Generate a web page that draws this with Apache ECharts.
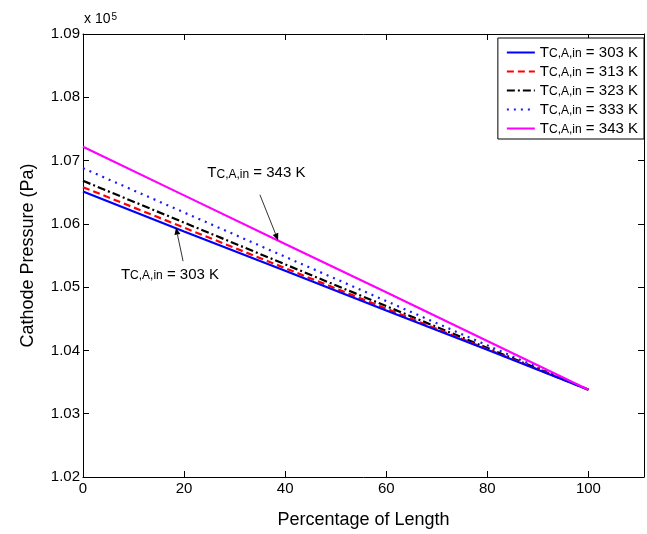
<!DOCTYPE html>
<html><head><meta charset="utf-8">
<script src="https://cdn.jsdelivr.net/npm/echarts@6/dist/echarts.min.js"></script>
<style>html,body{margin:0;padding:0;background:#fff}#c{width:647px;height:534px}</style>
</head><body><div id="c"></div>
<script>
// Data (cathode pressure in units of 10^5 Pa)
const xValues = [0, 20, 40, 60, 80, 100];
const p303 = [1.0651, 1.0588, 1.0526, 1.0463, 1.0401, 1.0338];
const p313 = [1.0658, 1.0594, 1.0530, 1.0466, 1.0402, 1.0338];
const p323 = [1.0668, 1.0602, 1.0536, 1.0470, 1.0404, 1.0338];
const p333 = [1.0688, 1.0618, 1.0548, 1.0478, 1.0408, 1.0338];
const p343 = [1.0722, 1.0645, 1.0568, 1.0492, 1.0415, 1.0338];
const seriesLabels = ['303 K', '313 K', '323 K', '333 K', '343 K'];
const xTickValues = [0, 20, 40, 60, 80, 100];
const yTickValues = [1.02, 1.03, 1.04, 1.05, 1.06, 1.07, 1.08, 1.09];
const xAxisTitle = 'Percentage of Length';
const yAxisTitle = 'Cathode Pressure (Pa)';

const FONT = 'Liberation Sans, Arial, sans-serif';
const chart = echarts.init(document.getElementById('c'), null, {renderer: 'canvas'});

const seriesData = [p303, p313, p323, p333, p343];
const styles = [
  {color: '#0000ff', type: 'solid', width: 2.2},
  {color: '#ff0000', type: [7, 4], width: 2.2},
  {color: '#000000', type: [8, 3, 2, 3], width: 2.2},
  {color: '#1a1aff', type: [2, 5], width: 2.2},
  {color: '#ff00ff', type: 'solid', width: 2.2}
];

const series = seriesData.map((d, i) => ({
  name: seriesLabels[i],
  type: 'line',
  xAxisIndex: 0, yAxisIndex: 0,
  data: xValues.map((x, j) => [x, d[j]]),
  symbol: 'none',
  z: 10 - i,
  lineStyle: {color: styles[i].color, type: styles[i].type, width: styles[i].width},
  itemStyle: {color: styles[i].color}
}));
series[4].z = 12;

const legendRich = {
  t: {fontSize: 15, fontFamily: FONT, color: '#000', verticalAlign: 'top', lineHeight: 15},
  s: {fontSize: 12, fontFamily: FONT, color: '#000', verticalAlign: 'bottom', lineHeight: 12, padding: [8, 0, 0, 0]}
};

chart.setOption({
  animation: false,
  backgroundColor: '#fff',
  grid: {left: 83, right: 3, top: 34, bottom: 53},
  legend: {
    orient: 'vertical', right: 3, top: 38,
    data: seriesLabels,
    itemWidth: 28, itemHeight: 10, itemGap: -1,
    padding: [2, 6, 3, 8],
    backgroundColor: '#fff', borderColor: '#000', borderWidth: 1,
    itemStyle: {color: 'rgba(0,0,0,0)', borderWidth: 0, opacity: 0},
    formatter: n => '{t|T}{s|C,A,in}{t| = ' + n + '}',
    textStyle: {rich: legendRich}
  },
  xAxis: [{
    type: 'value', min: 0, max: 111, position: 'bottom',
    name: xAxisTitle, nameLocation: 'middle', nameGap: 34,
    nameTextStyle: {fontSize: 18, fontFamily: FONT, color: '#000'},
    axisLine: {show: true, onZero: false, lineStyle: {color: '#000', width: 1}},
    axisTick: {show: true, inside: true, length: 6, customValues: xTickValues, lineStyle: {color: '#000'}},
    axisLabel: {show: true, customValues: xTickValues, fontSize: 15, fontFamily: FONT, color: '#000', margin: 4},
    splitLine: {show: false}
  }, {
    type: 'value', min: 0, max: 111, position: 'top',
    axisLine: {show: true, onZero: false, lineStyle: {color: '#000', width: 1}},
    axisTick: {show: true, inside: true, length: 6, customValues: xTickValues, lineStyle: {color: '#000'}},
    axisLabel: {show: false},
    splitLine: {show: false}
  }],
  yAxis: [{
    type: 'value', min: 1.02, max: 1.09, interval: 0.01, position: 'left',
    name: yAxisTitle, nameLocation: 'middle', nameGap: 46, nameRotate: 90,
    nameTextStyle: {fontSize: 18, fontFamily: FONT, color: '#000'},
    axisLine: {show: true, onZero: false, lineStyle: {color: '#000', width: 1}},
    axisTick: {show: true, inside: true, length: 6, lineStyle: {color: '#000'}},
    axisLabel: {fontSize: 15, fontFamily: FONT, color: '#000', margin: 3, formatter: v => v.toFixed(2)},
    splitLine: {show: false}
  }, {
    type: 'value', min: 1.02, max: 1.09, interval: 0.01, position: 'right',
    axisLine: {show: true, onZero: false, lineStyle: {color: '#000', width: 1}},
    axisTick: {show: true, inside: true, length: 6, lineStyle: {color: '#000'}},
    axisLabel: {show: false},
    splitLine: {show: false}
  }],
  series: series
});

// Annotations in data coordinates
const annotations = [
  {text: '343 K', textAt: [24.6, 1.0680], tail: [35.0, 1.0646], tip: [38.6, 1.0574]},
  {text: '303 K', textAt: [7.5, 1.0519], tail: [19.8, 1.0541], tip: [18.4, 1.0594]}
];

function px(p) { return chart.convertToPixel({xAxisIndex: 0, yAxisIndex: 0}, p); }

const g = [];
const topLeft = px([0, 1.09]);
g.push({type: 'text', x: topLeft[0] + 1, y: topLeft[1] - 22,
  style: {text: '{a|x 10}{b|5}', rich: {
    a: {fontSize: 14, fontFamily: FONT, fill: '#000', verticalAlign: 'bottom', lineHeight: 14, padding: [6, 0, 0, 0]},
    b: {fontSize: 10, fontFamily: FONT, fill: '#000', verticalAlign: 'top', lineHeight: 10, padding: [0, 0, 0, 1]}
  }}});

annotations.forEach(a => {
  const tp = px(a.textAt);
  g.push({type: 'text', x: tp[0], y: tp[1] - 8, z: 50,
    style: {text: '{t|T}{s|C,A,in}{t| = ' + a.text + '}', rich: {
      t: {fontSize: 15, fontFamily: FONT, fill: '#000', verticalAlign: 'top', lineHeight: 15},
      s: {fontSize: 12, fontFamily: FONT, fill: '#000', verticalAlign: 'bottom', lineHeight: 12, padding: [8, 0, 0, 0]}
    }}});
  const t0 = px(a.tail), t1 = px(a.tip);
  const dx = t1[0] - t0[0], dy = t1[1] - t0[1];
  const L = Math.sqrt(dx * dx + dy * dy), ux = dx / L, uy = dy / L;
  const hl = 7, hw = 3;
  const bx = t1[0] - ux * hl, by = t1[1] - uy * hl;
  g.push({type: 'line', z: 50, shape: {x1: t0[0], y1: t0[1], x2: bx, y2: by},
    style: {stroke: '#333', lineWidth: 1}});
  g.push({type: 'polygon', z: 50, shape: {points: [[t1[0], t1[1]], [bx - uy * hw, by + ux * hw], [bx + uy * hw, by - ux * hw]]},
    style: {fill: '#000'}});
});
chart.setOption({graphic: g});
</script></body></html>
